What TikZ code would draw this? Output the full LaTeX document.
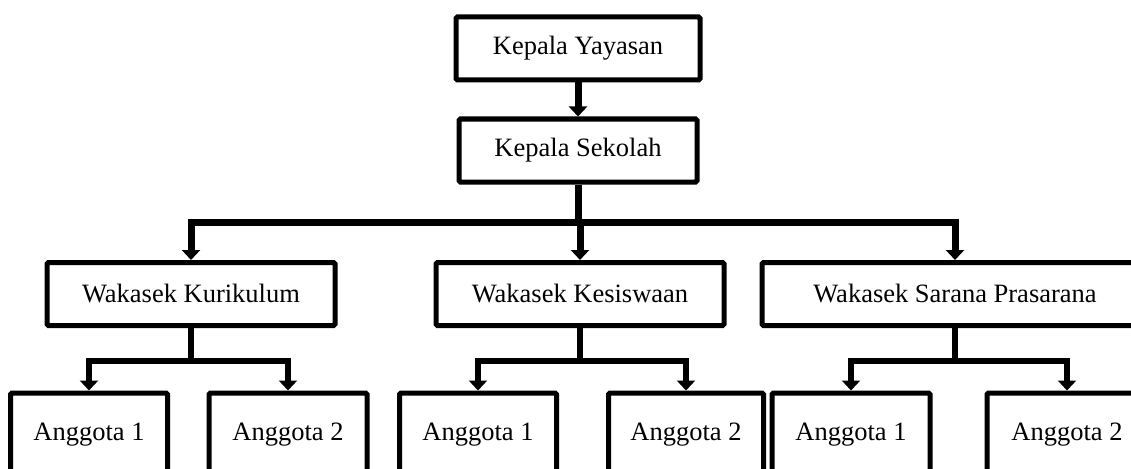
\documentclass[tikz,border=0pt]{standalone}
\usepackage{fontspec}
\setmainfont{Liberation Serif}
\usetikzlibrary{arrows.meta}
\tikzset{>/.tip={Triangle[width=18pt,length=10pt]},
  unit/.style={draw, line width=5pt, rounded corners=1.5pt, inner sep=0pt,
    minimum height=63pt, font=\fontsize{26.5}{30}\selectfont},
  member/.style={unit, minimum height=84pt},
  link/.style={->, line width=7pt},
  sublink/.style={->, line width=6pt}}

\begin{document}
\begin{tikzpicture}[x=1pt,y=-1pt]
\useasboundingbox (0,0) rectangle (1131,468);
\clip (0,0) rectangle (1131,468);
\node[unit, minimum width=244pt] (yayasan) at (578,48.5)  {Kepala Yayasan};
\node[unit, minimum width=238pt] (sekolah) at (578,150.5) {Kepala Sekolah};

\node[unit, minimum width=288pt] (kurikulum) at (191,294) {Wakasek Kurikulum};
\node[unit, minimum width=288pt] (kesiswaan) at (580,294) {Wakasek Kesiswaan};
\node[unit, minimum width=386pt] (sarana)    at (955,294) {Wakasek Sarana Prasarana};

\node[member, minimum width=157pt] (kur1) at (89,435)   {Anggota 1};
\node[member, minimum width=158pt] (kur2) at (288,435)  {Anggota 2};
\node[member, minimum width=157pt] (kes1) at (478,435)  {Anggota 1};
\node[member, minimum width=155pt] (kes2) at (686,435)  {Anggota 2};
\node[member, minimum width=158pt] (sar1) at (851,435)  {Anggota 1};
\node[member, minimum width=160pt] (sar2) at (1067,435) {Anggota 2};

\draw[link] (yayasan) -- (sekolah);
\foreach \j in {kurikulum,kesiswaan,sarana}
{
  \draw[link] (sekolah.south) -- ++(0,38) -| (\j.north);
}
\foreach \i/\a/\b in {kurikulum/kur1/kur2, kesiswaan/kes1/kes2, sarana/sar1/sar2}
{
  \foreach \j in {\a,\b}
  {
    \draw[sublink] (\i.south) -- ++(0,33) -| (\j.north);
  }
}
\end{tikzpicture}
\end{document}
